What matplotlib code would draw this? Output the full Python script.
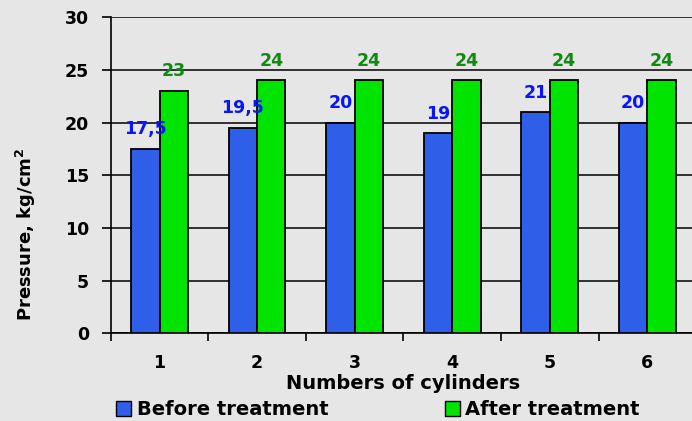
import matplotlib.pyplot as plt
import numpy as np
from matplotlib.patches import Patch

cylinders = ["1", "2", "3", "4", "5", "6"]
before = [17.5, 19.5, 20, 19, 21, 20]
after = [23, 24, 24, 24, 24, 24]
before_labels = ["17,5", "19,5", "20", "19", "21", "20"]
after_labels = ["23", "24", "24", "24", "24", "24"]

plt.rcParams["font.family"] = ["DejaVu Sans"]
plt.rcParams["font.weight"] = "bold"
plt.rcParams["mathtext.default"] = "bf"

bg = "#e6e6e6"
blue = "#2f5fe8"
green = "#00e400"

fig = plt.figure(figsize=(6.92, 4.21), dpi=100, facecolor=bg)
ax = fig.add_axes([0.16, 0.208, 0.846, 0.751])
ax.set_facecolor(bg)

x = np.arange(len(cylinders))
w = 0.29
ax.bar(x - w / 2, before, w, color=blue, edgecolor="black", linewidth=1.3, zorder=3)
ax.bar(x + w / 2, after, w, color=green, edgecolor="black", linewidth=1.3, zorder=3)

for xi, v, lab in zip(x, before, before_labels):
    ax.text(xi - w / 2, v + 1.0, lab, ha="center", va="bottom", color="#0814ff",
            fontsize=12.5, fontweight="bold", zorder=4)
for xi, v, lab in zip(x, after, after_labels):
    ax.text(xi + w / 2, v + 1.0, lab, ha="center", va="bottom", color="#108a10",
            fontsize=12.5, fontweight="bold", zorder=4)

ax.set_xlim(-0.5, len(cylinders) - 0.5)
ax.set_ylim(0, 30)
ax.set_yticks(np.arange(0, 31, 5))
ax.set_xticks(np.arange(-0.5, len(cylinders), 1))
ax.set_xticklabels([])
ax.set_xticks(x, minor=True)
ax.set_xticklabels(cylinders, minor=True, fontsize=12.5, fontweight="bold")
ax.tick_params(axis="x", which="minor", length=0, pad=15)
ax.tick_params(axis="x", which="major", length=6, width=1.2, direction="out")
ax.tick_params(axis="y", length=6.5, width=1.2, direction="out", labelsize=12.5, pad=9)
for t in ax.get_yticklabels():
    t.set_fontweight("bold")

ax.grid(axis="y", color="black", linewidth=1.1, zorder=0)
for s in ["top", "right"]:
    ax.spines[s].set_visible(False)
ax.spines["left"].set_linewidth(1.2)
ax.spines["bottom"].set_linewidth(1.2)

ax.set_xlabel("Numbers of cylinders", fontsize=14, fontweight="bold", labelpad=1)
ax.set_ylabel("Pressure, kg/cm$^2$", fontsize=13, fontweight="bold")
ax.yaxis.set_label_coords(-0.125, 0.315)

handles = [Patch(facecolor=blue, edgecolor="black"), Patch(facecolor=green, edgecolor="black")]
fig.legend(handles, ["Before treatment", "After treatment"], loc="lower left",
           bbox_to_anchor=(0.168, 0.004), ncol=2, frameon=False, borderpad=0,
           borderaxespad=0, prop={"size": 14, "weight": "bold"},
           handlelength=0.75, handleheight=0.75, handletextpad=0.3, columnspacing=6.0)

fig.savefig("out.png", dpi=100, facecolor=bg)
